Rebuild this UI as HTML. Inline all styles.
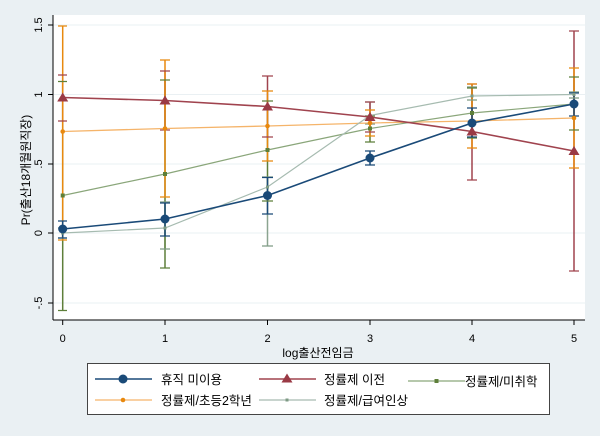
<!DOCTYPE html><html><head><meta charset="utf-8"><style>body{margin:0;background:#eaf0f3}svg{display:block;font-family:"Liberation Sans","Noto Sans CJK KR",sans-serif}</style></head><body>
<svg width="600" height="436" viewBox="0 0 600 436">
<rect width="600" height="436" fill="#eaf0f3"/>
<rect x="53" y="15" width="532" height="305" fill="#fff"/>
<g stroke="#eaf0f3" stroke-width="1">
<line x1="53" x2="585" y1="25" y2="25"/><line x1="53" x2="585" y1="94.5" y2="94.5"/><line x1="53" x2="585" y1="164" y2="164"/><line x1="53" x2="585" y1="233" y2="233"/><line x1="53" x2="585" y1="303" y2="303"/></g>
<g stroke="#000" stroke-width="1"><line x1="53" y1="15" x2="53" y2="320"/><line x1="53" y1="320" x2="585" y2="320"/>
<line x1="48" x2="53" y1="25" y2="25"/><line x1="48" x2="53" y1="94.5" y2="94.5"/><line x1="48" x2="53" y1="164" y2="164"/><line x1="48" x2="53" y1="233" y2="233"/><line x1="48" x2="53" y1="303" y2="303"/>
<line x1="62.7" x2="62.7" y1="320" y2="325"/><line x1="165" x2="165" y1="320" y2="325"/><line x1="267.5" x2="267.5" y1="320" y2="325"/><line x1="370" x2="370" y1="320" y2="325"/><line x1="472" x2="472" y1="320" y2="325"/><line x1="574" x2="574" y1="320" y2="325"/></g>
<g font-size="11" text-anchor="middle" fill="#000">
<text x="62.7" y="342">0</text><text x="165" y="342">1</text><text x="267.5" y="342">2</text><text x="370" y="342">3</text><text x="472" y="342">4</text><text x="574" y="342">5</text>
<text transform="translate(42,25) rotate(-90)">1.5</text><text transform="translate(42,94.5) rotate(-90)">1</text><text transform="translate(42,164) rotate(-90)">.5</text><text transform="translate(42,233) rotate(-90)">0</text><text transform="translate(42,303) rotate(-90)">-.5</text>
<text transform="translate(30,170) rotate(-90)" font-size="12">Pr(출산18개월원직장)</text>
<text x="318" y="357" font-size="12">log출산전임금</text></g>
<g stroke-width="1.5" fill="none">
<g stroke="#7e9a84" opacity=".9"><path d="M62.7 228V238M165 202V249M267.5 177V246M370 102V124M472 87V100M574 92V98"/></g>
<g stroke="#5e7f3a"><path d="M62.7 81.5V310.5M165 80V268M267.5 101V201M370 116V142M472 88V138M574 77V130"/></g>
<g stroke="#a0434e"><path d="M62.7 75V121M165 71V130M267.5 76V137M370 102V132M472 84V180M574 31V271"/></g>
<g stroke="#e8890f"><path d="M62.7 26V240M165 60V197M267.5 91V161M370 110V136M472 84V148M574 68V168"/></g>
<g stroke="#1a4a78"><path d="M62.7 221V238M165 203V236M267.5 177.5V214M370 151V165M472 108V137M574 93V116"/></g>
</g>
<g stroke-width="1.3">
<g stroke="#7e9a84"><path d="M58 228h9M58 238h9M160 202h10M160 249h10M262 177h11M262 246h11M365 102h10M365 124h10M467 87h10M467 100h10M569 92h10M569 98h10"/></g>
<g stroke="#5e7f3a"><path d="M58 81.5h9M58 310.5h9M160 80h10M160 268h10M262 101h11M262 201h11M365 116h10M365 142h10M467 88h10M467 138h10M569 77h10M569 130h10"/></g>
<g stroke="#a0434e"><path d="M58 75h9M58 121h9M160 71h10M160 130h10M262 76h11M262 137h11M365 102h10M365 132h10M467 84h10M467 180h10M569 31h10M569 271h10"/></g>
<g stroke="#e8890f"><path d="M58 26h9M58 240h9M160 60h10M160 197h10M262 91h11M262 161h11M365 110h10M365 136h10M467 84h10M467 148h10M569 68h10M569 168h10"/></g>
<g stroke="#1a4a78"><path d="M58 221h9M58 238h9M160 203h10M160 236h10M262 177.5h11M262 214h11M365 151h10M365 165h10M467 108h10M467 137h10M569 93h10M569 116h10"/></g>
</g>
<polyline fill="none" stroke="#f5b46a" stroke-width="1.3" points="62.7,131.5 165,128.5 267.5,126 370,123 472,121 574,118"/>
<polyline fill="none" stroke="#8aa67a" stroke-width="1.2" points="62.7,195.5 165,174 267.5,150 370,128.5 472,113 574,104"/>
<polyline fill="none" stroke="#a6bbb0" stroke-width="1.2" points="62.7,233 165,228 267.5,187 370,115.5 472,96 574,94.5"/>
<polyline fill="none" stroke="#a0434e" stroke-width="1.6" points="62.7,97.5 165,100.5 267.5,106.5 370,117 472,131.5 574,151"/>
<polyline fill="none" stroke="#1a4a78" stroke-width="1.6" points="62.7,229 165,219 267.5,195.5 370,158 472,123 574,104"/>
<g fill="#e8890f"><circle cx="62.7" cy="131.5" r="2.3"/><circle cx="165" cy="128.5" r="2.3"/><circle cx="267.5" cy="126" r="2.3"/><circle cx="370" cy="123" r="2.3"/><circle cx="472" cy="121" r="2.3"/><circle cx="574" cy="118" r="2.3"/></g>
<g fill="#5e7f3a"><rect x="60.7" y="193.5" width="4" height="4"/><rect x="163" y="172" width="4" height="4"/><rect x="265.5" y="148" width="4" height="4"/><rect x="368" y="126.5" width="4" height="4"/><rect x="470" y="111" width="4" height="4"/><rect x="572" y="102" width="4" height="4"/></g>
<g fill="#7e9a84"><rect x="61.2" y="231.5" width="3" height="3"/><rect x="163.5" y="226.5" width="3" height="3"/><rect x="266" y="185.5" width="3" height="3"/><rect x="368.5" y="114" width="3" height="3"/><rect x="470.5" y="94.5" width="3" height="3"/><rect x="572.5" y="93" width="3" height="3"/></g>
<g fill="#9a3a45"><path d="M62.7 92.5l5.5 9h-11z M165 95.5l5.5 9h-11z M267.5 101.5l5.5 9h-11z M370 112l5.5 9h-11z M472 126.5l5.5 9h-11z M574 146l5.5 9h-11z"/></g>
<g fill="#1a4a78"><circle cx="62.7" cy="229" r="4.5"/><circle cx="165" cy="219" r="4.5"/><circle cx="267.5" cy="195.5" r="4.5"/><circle cx="370" cy="158" r="4.5"/><circle cx="472" cy="123" r="4.5"/><circle cx="574" cy="104" r="4.5"/></g>
<rect x="87.5" y="363.5" width="462" height="51" fill="#fff" stroke="#444" stroke-width="1"/>
<g font-size="12.5" fill="#000">
<line x1="95" x2="152" y1="379" y2="379" stroke="#1a4a78" stroke-width="1.5"/><circle cx="123" cy="379" r="4.5" fill="#1a4a78"/><text x="161" y="384">휴직 미이용</text>
<line x1="259" x2="316" y1="379" y2="379" stroke="#a0434e" stroke-width="1.5"/><path d="M287 373.5l5.5 9h-11z" fill="#9a3a45"/><text x="324" y="384">정률제 이전</text>
<line x1="408" x2="465" y1="381" y2="381" stroke="#8aa67a" stroke-width="1.2"/><rect x="434.5" y="379" width="4" height="4" fill="#5e7f3a"/><text x="465" y="386">정률제/미취학</text>
<line x1="95" x2="152" y1="400" y2="400" stroke="#f5b46a" stroke-width="1.3"/><circle cx="123" cy="400" r="2.3" fill="#e8890f"/><text x="161" y="405">정률제/초등2학년</text>
<line x1="259" x2="316" y1="400" y2="400" stroke="#a6bbb0" stroke-width="1.2"/><rect x="285.5" y="398.5" width="3" height="3" fill="#7e9a84"/><text x="324" y="405">정률제/급여인상</text>
</g>
</svg></body></html>
